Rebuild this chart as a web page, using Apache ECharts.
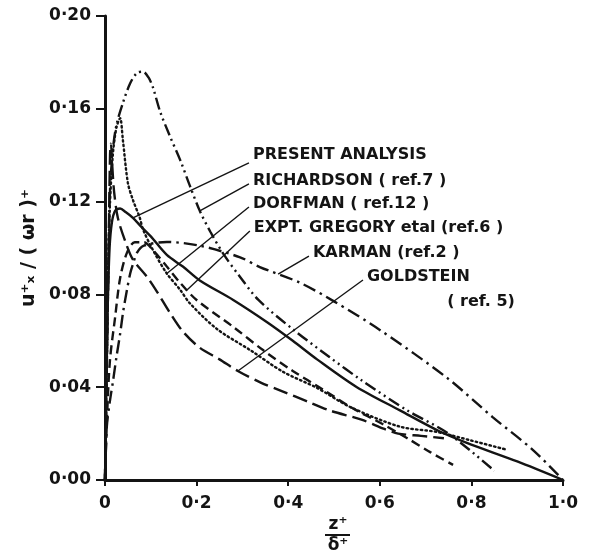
<!DOCTYPE html>
<html><head><meta charset="utf-8">
<script src="https://cdn.jsdelivr.net/npm/echarts@6/dist/echarts.min.js"></script>
<style>html,body{margin:0;padding:0;background:#fff}#c{width:589px;height:560px}</style>
</head><body><div id="c"></div>
<script>
// ---- data ----
const xTicks = [0, 0.2, 0.4, 0.6, 0.8, 1.0];
const yTicks = [0, 0.04, 0.08, 0.12, 0.16, 0.20];

const presentX = [0, 0.003, 0.006, 0.01, 0.015, 0.022, 0.033, 0.045, 0.061, 0.08, 0.1, 0.135, 0.17, 0.207, 0.28, 0.354, 0.41, 0.463, 0.55, 0.644, 0.73, 0.79, 0.9, 1.0];
const presentY = [0, 0.04, 0.075, 0.1, 0.111, 0.116, 0.117, 0.1155, 0.113, 0.109, 0.105, 0.097, 0.092, 0.086, 0.0776, 0.068, 0.06, 0.052, 0.040, 0.030, 0.021, 0.016, 0.008, 0];

const richardsonX = [0, 0.004, 0.008, 0.011, 0.017, 0.025, 0.039, 0.055, 0.07, 0.083, 0.095, 0.105, 0.12, 0.14, 0.164, 0.185, 0.207, 0.23, 0.26, 0.295, 0.335, 0.41, 0.49, 0.56, 0.66, 0.75, 0.85];
const richardsonY = [0, 0.05, 0.1, 0.125, 0.142, 0.153, 0.1625, 0.171, 0.1755, 0.176, 0.1735, 0.169, 0.159, 0.149, 0.138, 0.127, 0.116, 0.107, 0.097, 0.0875, 0.0776, 0.065, 0.053, 0.043, 0.030, 0.020, 0.004];

const dorfmanX = [0, 0.003, 0.006, 0.01, 0.017, 0.025, 0.033, 0.039, 0.05, 0.061, 0.076, 0.083, 0.105, 0.135, 0.164, 0.186, 0.245, 0.317, 0.389, 0.463, 0.535, 0.644, 0.725, 0.8, 0.878];
const dorfmanY = [0, 0.04, 0.08, 0.115, 0.14, 0.152, 0.156, 0.1466, 0.128, 0.1207, 0.113, 0.108, 0.099, 0.089, 0.082, 0.076, 0.065, 0.056, 0.0466, 0.0397, 0.0315, 0.023, 0.0207, 0.017, 0.013];

const gregoryX = [0, 0.005, 0.011, 0.022, 0.033, 0.048, 0.065, 0.085, 0.105, 0.135, 0.164, 0.2, 0.28, 0.345, 0.41, 0.476, 0.54, 0.607, 0.66, 0.71, 0.76];
const gregoryY = [0, 0.03, 0.052, 0.07, 0.087, 0.098, 0.1025, 0.1025, 0.099, 0.092, 0.085, 0.0776, 0.066, 0.056, 0.047, 0.039, 0.031, 0.024, 0.018, 0.012, 0.0065];

const karmanX = [0, 0.004, 0.01, 0.017, 0.025, 0.033, 0.04, 0.048, 0.055, 0.061, 0.07, 0.085, 0.135, 0.207, 0.295, 0.338, 0.426, 0.5, 0.6, 0.747, 0.847, 0.934, 1.0];
const karmanY = [0, 0.023, 0.033, 0.042, 0.053, 0.063, 0.073, 0.082, 0.089, 0.093, 0.098, 0.101, 0.1026, 0.101, 0.096, 0.0918, 0.085, 0.077, 0.0647, 0.044, 0.027, 0.013, 0];

const goldsteinX = [0, 0.004, 0.008, 0.011, 0.013, 0.016, 0.02, 0.028, 0.044, 0.061, 0.092, 0.114, 0.142, 0.17, 0.207, 0.25, 0.29, 0.34, 0.39, 0.44, 0.49, 0.56, 0.61, 0.64, 0.69, 0.74];
const goldsteinY = [0, 0.05, 0.1, 0.14, 0.145, 0.135, 0.124, 0.113, 0.103, 0.095, 0.0875, 0.081, 0.072, 0.064, 0.057, 0.052, 0.047, 0.042, 0.038, 0.034, 0.030, 0.026, 0.022, 0.020, 0.019, 0.018];

const seriesNames = ['PRESENT ANALYSIS', 'RICHARDSON (ref.7)', 'DORFMAN (ref.12)', 'EXPT. GREGORY etal (ref.6)', 'KARMAN (ref.2)', 'GOLDSTEIN (ref.5)'];

// ---- annotation text (label anchor in data units, curve attach x) ----
const noteTexts = ['PRESENT ANALYSIS', 'RICHARDSON ( ref.7 )', 'DORFMAN ( ref.12 )', 'EXPT. GREGORY etal (ref.6 )', 'KARMAN (ref.2 )', 'GOLDSTEIN', '( ref. 5)'];
const noteAnchorX = [0.323, 0.323, 0.323, 0.325, 0.454, 0.572, 0.747];
const noteAnchorY = [0.1401, 0.1289, 0.119, 0.1086, 0.0978, 0.0875, 0.0767];
const noteSeries = [0, 1, 2, 3, 4, 5, -1];
const noteAttachX = [0.061, 0.207, 0.135, 0.179, 0.378, 0.29, null];

const allX = [presentX, richardsonX, dorfmanX, gregoryX, karmanX, goldsteinX];
const allY = [presentY, richardsonY, dorfmanY, gregoryY, karmanY, goldsteinY];
const dashes = ['solid', [12, 4, 2, 4, 2, 4], [1.5, 3.2], [9, 5], [13, 5, 2.5, 5], [15, 6]];

function pairs(xs, ys) { return xs.map((x, i) => [x, ys[i]]); }
function interp(xs, ys, x) {
  for (let i = 1; i < xs.length; i++) {
    if (x <= xs[i]) { const t = (x - xs[i-1]) / (xs[i] - xs[i-1]); return ys[i-1] + t * (ys[i] - ys[i-1]); }
  }
  return ys[ys.length - 1];
}
const fmt = v => v.toFixed(2).replace('.', '\u00b7');
const FONT = 'DejaVu Sans';
const INK = '#141414';

const chart = echarts.init(document.getElementById('c'), null, {renderer: 'canvas'});
const option = {
  backgroundColor: '#ffffff',
  animation: false,
  grid: {left: 105, right: 26, top: 16, bottom: 80},
  xAxis: {
    type: 'value', min: 0, max: 1, interval: 0.2,
    axisLine: {lineStyle: {color: INK, width: 3}},
    axisTick: {show: true, length: 6, lineStyle: {color: INK, width: 2}},
    splitLine: {show: false},
    axisLabel: {
      margin: 15, color: INK, fontFamily: FONT, fontWeight: 'bold', fontSize: 17,
      formatter: v => v === 0 ? '0' : v.toFixed(1).replace('.', '\u00b7')
    }
  },
  yAxis: {
    type: 'value', min: 0, max: 0.2, interval: 0.04,
    axisLine: {show: true, lineStyle: {color: INK, width: 3}},
    axisTick: {show: true, length: 9, lineStyle: {color: INK, width: 2}},
    splitLine: {show: false},
    axisLabel: {margin: 14, color: INK, fontFamily: FONT, fontWeight: 'bold', fontSize: 17, formatter: v => fmt(v)},
    name: 'u\u207a\u2093 / ( \u03c9r )\u207a', nameLocation: 'middle', nameGap: 66, nameRotate: 90,
    nameTextStyle: {color: INK, fontFamily: FONT, fontWeight: 'bold', fontSize: 19}
  },
  series: allX.map((xs, i) => ({
    name: seriesNames[i], type: 'line', data: pairs(xs, allY[i]),
    showSymbol: false, smooth: 0.3,
    lineStyle: {color: INK, width: 2.4, type: dashes[i], cap: i === 2 ? 'round' : 'butt'},
    z: 3
  }))
};
chart.setOption(option);

// annotations
const g = [];
noteTexts.forEach((t, i) => {
  const p = chart.convertToPixel({gridIndex: 0}, [noteAnchorX[i], noteAnchorY[i]]);
  g.push({type: 'text', x: p[0], y: p[1], style: {text: t, fill: INK, font: 'bold 16px "' + FONT + '"', textAlign: 'left', textVerticalAlign: 'middle'}, z: 10});
  const s = noteSeries[i];
  if (s >= 0) {
    const ax = noteAttachX[i];
    const ay = interp(allX[s], allY[s], ax);
    const q = chart.convertToPixel({gridIndex: 0}, [ax, ay]);
    const dy = i === 0 ? 8 : 3;
    g.push({type: 'line', shape: {x1: p[0] - 4, y1: p[1] + dy, x2: q[0], y2: q[1]}, style: {stroke: INK, lineWidth: 1.4}, z: 9});
  }
});
// x axis name as a fraction z+/δ+
const xc = 338;
g.push({type: 'text', x: xc, y: 525, style: {text: 'z\u207a', fill: INK, font: 'bold 17px "' + FONT + '"', textAlign: 'center', textVerticalAlign: 'middle'}});
g.push({type: 'line', shape: {x1: xc - 13, y1: 535, x2: xc + 12, y2: 535}, style: {stroke: INK, lineWidth: 2}});
g.push({type: 'text', x: xc, y: 546, style: {text: '\u03b4\u207a', fill: INK, font: 'bold 17px "' + FONT + '"', textAlign: 'center', textVerticalAlign: 'middle'}});
chart.setOption({graphic: g});
</script>
</body></html>
